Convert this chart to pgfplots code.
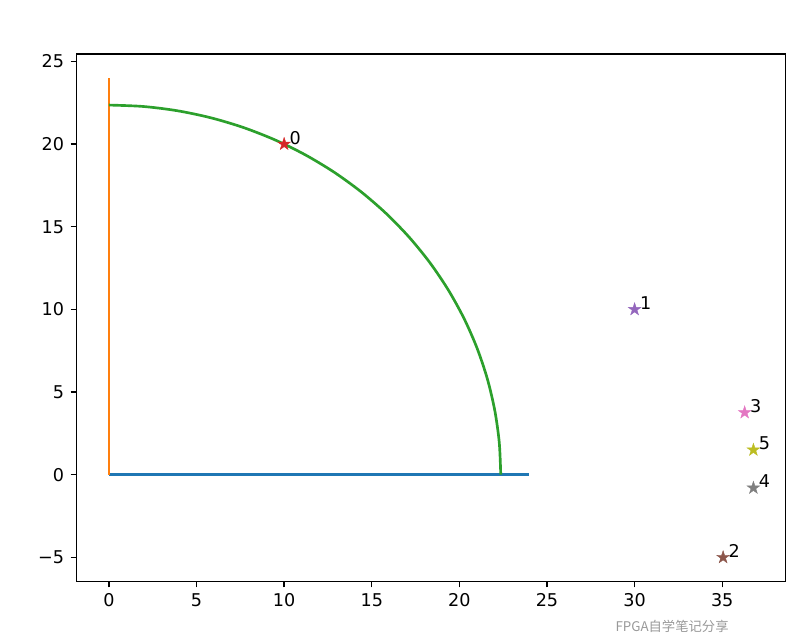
\documentclass[border=0pt]{standalone}
\usepackage{fontspec}
\setmainfont{DejaVu Sans}
\newfontfamily\cjk{Noto Sans CJK SC}
\usepackage{pgfplots}
\pgfplotsset{compat=1.18}
\definecolor{c0}{HTML}{1F77B4}
\definecolor{c1}{HTML}{FF7F0E}
\definecolor{c2}{HTML}{2CA02C}
\definecolor{c3}{HTML}{D62728}
\definecolor{c4}{HTML}{9467BD}
\definecolor{c5}{HTML}{8C564B}
\definecolor{c6}{HTML}{E377C2}
\definecolor{c7}{HTML}{7F7F7F}
\definecolor{c8}{HTML}{BCBD22}
\pgfdeclareplotmark{fstar}{%
 \pgfpathmoveto{\pgfpointpolar{90}{\pgfplotmarksize}}%
 \pgfpathlineto{\pgfpointpolar{126}{0.382\pgfplotmarksize}}%
 \pgfpathlineto{\pgfpointpolar{162}{\pgfplotmarksize}}%
 \pgfpathlineto{\pgfpointpolar{198}{0.382\pgfplotmarksize}}%
 \pgfpathlineto{\pgfpointpolar{234}{\pgfplotmarksize}}%
 \pgfpathlineto{\pgfpointpolar{270}{0.382\pgfplotmarksize}}%
 \pgfpathlineto{\pgfpointpolar{306}{\pgfplotmarksize}}%
 \pgfpathlineto{\pgfpointpolar{342}{0.382\pgfplotmarksize}}%
 \pgfpathlineto{\pgfpointpolar{18}{\pgfplotmarksize}}%
 \pgfpathlineto{\pgfpointpolar{54}{0.382\pgfplotmarksize}}%
 \pgfpathclose
 \pgfusepathqfillstroke}
\begin{document}
\begin{tikzpicture}[font=\fontsize{13.2}{15}\selectfont]
\path[use as bounding box] (-57.5pt,-42.5pt) rectangle (550.75pt,436pt);
\begin{axis}[at={(0,0)}, anchor=south west, scale only axis,
  width=531.75pt, height=395.5pt,
  xmin=-1.84, xmax=38.62, ymin=-6.45, ymax=25.45,
  xtick={0,5,...,35}, ytick={-5,0,5,10,15,20,25},
  yticklabels={−5,0,5,10,15,20,25},
  xtick pos=bottom, ytick pos=left,
  tick align=outside, major tick length=4.6pt,
  every tick/.style={black, line width=1.05pt},
  axis line style={line width=1.05pt},
  /pgf/number format/assume math mode=true,
  every tick label/.append style={font=\fontsize{13.2}{15}\selectfont, inner sep=0pt},
  xticklabel style={yshift=-4.6pt},
  yticklabel style={xshift=-4.6pt},
  clip=false]
\addplot[c0, line width=2pt] coordinates {(0,0) (24,0)};
\addplot[c1, line width=2pt] coordinates {(0,0) (0,24)};
\addplot[c2, line width=2pt, smooth] coordinates {
(22.361,0) (22.276,1.949) (22.021,3.883) (21.599,5.787) (21.012,7.648)
(20.266,9.450) (19.365,11.180) (18.317,12.826) (17.129,14.373) (15.811,15.811)
(14.373,17.129) (12.826,18.317) (11.180,19.365) (9.450,20.266) (7.648,21.012)
(5.787,21.599) (3.883,22.021) (1.949,22.276) (0,22.361)};
\addplot[only marks, mark=fstar, mark size=5pt, c3, mark options={line width=0.3pt}] coordinates {(10,20)};
\addplot[only marks, mark=fstar, mark size=5pt, c4, mark options={line width=0.3pt}] coordinates {(30,10)};
\addplot[only marks, mark=fstar, mark size=5pt, c5, mark options={line width=0.3pt}] coordinates {(35.05,-5)};
\addplot[only marks, mark=fstar, mark size=5pt, c6, mark options={line width=0.3pt}] coordinates {(36.28,3.76)};
\addplot[only marks, mark=fstar, mark size=5pt, c7, mark options={line width=0.3pt}] coordinates {(36.78,-0.8)};
\addplot[only marks, mark=fstar, mark size=5pt, c8, mark options={line width=0.3pt}] coordinates {(36.78,1.5)};
\node[anchor=base west, inner sep=0pt] at (axis cs:10.3,20) {0};
\node[anchor=base west, inner sep=0pt] at (axis cs:30.3,10) {1};
\node[anchor=base west, inner sep=0pt] at (axis cs:35.35,-5) {2};
\node[anchor=base west, inner sep=0pt] at (axis cs:36.58,3.76) {3};
\node[anchor=base west, inner sep=0pt] at (axis cs:37.08,-0.8) {4};
\node[anchor=base west, inner sep=0pt] at (axis cs:37.08,1.5) {5};
\end{axis}
\node[anchor=west, inner sep=0pt, text=gray, opacity=0.8, font=\cjk\fontsize{10}{12}\selectfont] at (404pt,-33.5pt) {FPGA自学笔记分享};
\end{tikzpicture}
\end{document}
